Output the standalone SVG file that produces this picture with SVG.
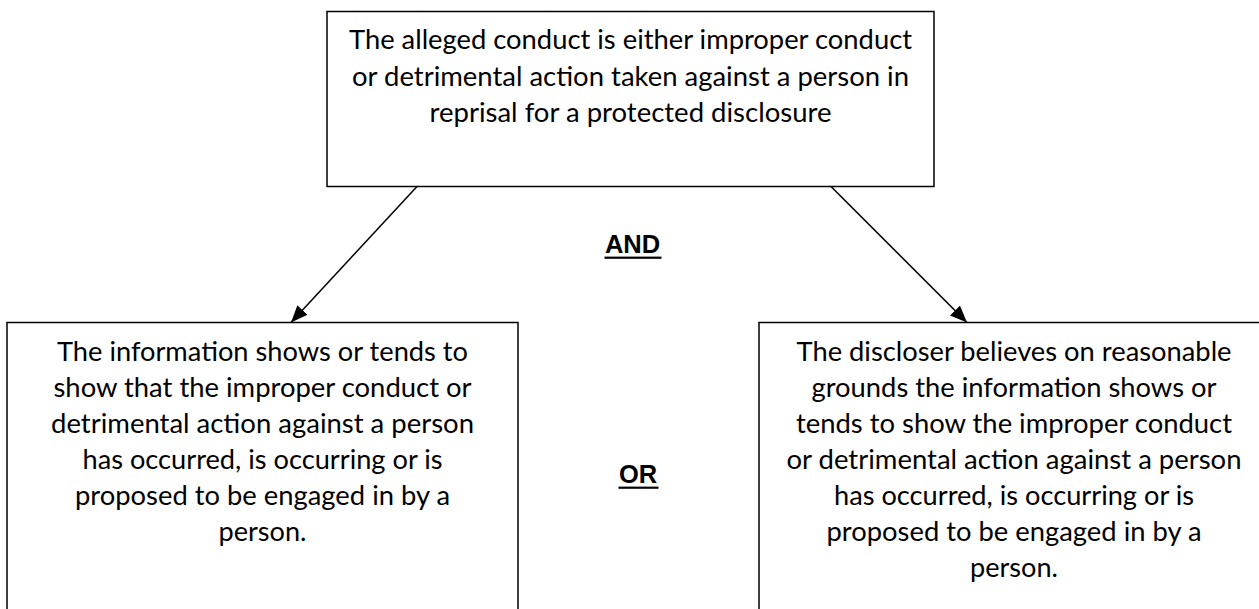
<svg xmlns="http://www.w3.org/2000/svg" width="1259" height="609" viewBox="0 0 1259 609">
  <style>
    .box { fill: #ffffff; stroke: #000000; stroke-width: 1.5; }
    .body { font-family: Lato, "Open Sans", "Liberation Sans", sans-serif; font-size: 26.5px; fill: #000000; text-anchor: middle; }
    .label { font-family: "Liberation Sans", Arial, sans-serif; font-size: 25.5px; font-weight: bold; fill: #000000; text-anchor: middle; }
    .edge { stroke: #000000; stroke-width: 1.5; fill: none; marker-end: url(#arrow); }
  </style>
  <defs>
    <marker id="arrow" markerUnits="userSpaceOnUse" markerWidth="18" markerHeight="14" refX="17" refY="7" orient="auto">
      <path d="M0,0 L17,7 L0,14 Z" fill="#000000"/>
    </marker>
  </defs>
  <rect x="0" y="0" width="1259" height="609" fill="#ffffff"/>

  <g id="connectors">
    <line class="edge" x1="417" y1="186.5" x2="291" y2="322.5"/>
    <line class="edge" x1="831" y1="186.5" x2="967" y2="322.5"/>
  </g>

  <g id="node-top">
    <rect class="box" x="327" y="11.5" width="607" height="175"/>
    <text class="body" x="630.5" y="49" textLength="563" lengthAdjust="spacingAndGlyphs">The alleged conduct is either improper conduct</text>
    <text class="body" x="630.5" y="85.5" textLength="557" lengthAdjust="spacingAndGlyphs">or detrimental action taken against a person in</text>
    <text class="body" x="630.5" y="122" textLength="402" lengthAdjust="spacingAndGlyphs">reprisal for a protected disclosure</text>
  </g>

  <g id="node-left">
    <rect class="box" x="7" y="322.5" width="511" height="300"/>
    <text class="body" x="262.5" y="360.5" textLength="411" lengthAdjust="spacingAndGlyphs">The information shows or tends to</text>
    <text class="body" x="262.5" y="396.5" textLength="418" lengthAdjust="spacingAndGlyphs">show that the improper conduct or</text>
    <text class="body" x="262.5" y="432.5" textLength="423" lengthAdjust="spacingAndGlyphs">detrimental action against a person</text>
    <text class="body" x="262.5" y="468.5" textLength="360" lengthAdjust="spacingAndGlyphs">has occurred, is occurring or is</text>
    <text class="body" x="262.5" y="504.5" textLength="375" lengthAdjust="spacingAndGlyphs">proposed to be engaged in by a</text>
    <text class="body" x="262.5" y="540.5" textLength="88" lengthAdjust="spacingAndGlyphs">person.</text>
  </g>

  <g id="node-right">
    <rect class="box" x="759" y="322.5" width="510" height="300"/>
    <text class="body" x="1014" y="360.5" textLength="435" lengthAdjust="spacingAndGlyphs">The discloser believes on reasonable</text>
    <text class="body" x="1014" y="396.5" textLength="405" lengthAdjust="spacingAndGlyphs">grounds the information shows or</text>
    <text class="body" x="1014" y="432.5" textLength="436" lengthAdjust="spacingAndGlyphs">tends to show the improper conduct</text>
    <text class="body" x="1014" y="468.5" textLength="455" lengthAdjust="spacingAndGlyphs">or detrimental action against a person</text>
    <text class="body" x="1014" y="504.5" textLength="360" lengthAdjust="spacingAndGlyphs">has occurred, is occurring or is</text>
    <text class="body" x="1014" y="540.5" textLength="375" lengthAdjust="spacingAndGlyphs">proposed to be engaged in by a</text>
    <text class="body" x="1014" y="576.5" textLength="88" lengthAdjust="spacingAndGlyphs">person.</text>
  </g>

  <g id="label-and">
    <text class="label" x="632.5" y="253.3">AND</text>
    <rect x="604.5" y="256.6" width="57" height="2.2" fill="#000000"/>
  </g>

  <g id="label-or">
    <text class="label" x="638" y="483.3">OR</text>
    <rect x="618.5" y="486.6" width="40" height="2.2" fill="#000000"/>
  </g>
</svg>
